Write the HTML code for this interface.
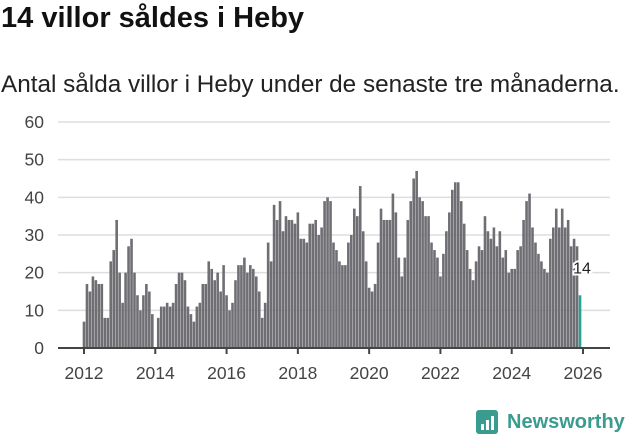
<!DOCTYPE html>
<html><head><meta charset="utf-8">
<style>
body{margin:0;background:#fff;width:631px;height:439px;overflow:hidden;font-family:"Liberation Sans",sans-serif;}
#title{position:absolute;left:1px;top:2px;font-size:29px;font-weight:bold;color:#111;margin:0;white-space:nowrap;}
#sub{position:absolute;left:1px;top:71px;font-size:24.3px;color:#222;white-space:nowrap;}
svg{position:absolute;left:0;top:0;}
</style></head><body>
<h1 id="title">14 villor såldes i Heby</h1>
<div id="sub">Antal sålda villor i Heby under de senaste tre månaderna.</div>
<svg id="chart" width="631" height="439"></svg>
<script>
const startYear = 2012;
const values = [
7,17,15,19,18,17,17,8,8,23,26,34,
20,12,20,27,29,20,14,10,14,17,15,9,
0,8,11,11,12,11,12,17,20,20,18,11,
9,7,11,12,17,17,23,21,18,20,15,22,
14,10,12,18,22,22,24,20,22,21,19,15,
8,12,28,23,38,34,39,31,35,34,34,33,
36,29,29,28,33,33,34,30,32,39,40,39,
28,26,23,22,22,28,30,37,35,43,31,23,
16,15,17,28,37,34,34,34,41,36,24,19,
24,34,39,45,47,40,39,35,35,28,26,24,
19,25,31,36,42,44,44,39,33,26,21,18,
23,27,26,35,31,29,32,27,31,24,26,20,
21,21,26,27,34,39,41,32,28,25,23,21,
20,29,32,37,32,37,32,34,27,29,27,14];
const yTicks = [0,10,20,30,40,50,60];
const xTicks = [2012,2014,2016,2018,2020,2022,2024,2026];
const NS="http://www.w3.org/2000/svg";
const svg=document.getElementById('chart');
const y0=348, yTop=122, yMax=60;
const x0=84, x1=583;
const yS=v=>y0-(v/yMax)*(y0-yTop);
const xS=m=>x0+(m/(12*14))*(x1-x0);
function mk(t,a){const e=document.createElementNS(NS,t);for(const k in a)e.setAttribute(k,a[k]);svg.appendChild(e);return e;}
yTicks.forEach(t=>{
  if(t>0){const g=mk('line',{x1:58,x2:610,y1:yS(t),y2:yS(t),stroke:'#dedede','stroke-width':1.5});
  
  }
  const l=mk('text',{x:44,y:yS(t)+6,'text-anchor':'end','font-size':17.5,fill:'#444','font-family':'Liberation Sans, sans-serif'});
  l.textContent=t;
  
  
});
values.forEach((v,i)=>{
  const last=i===values.length-1;
  const r=mk('rect',{x:xS(i)-1.3,y:yS(v),width:2.6,height:y0-yS(v),fill:last?'#2aa198':'#6f6e73'});
  
  
});
const ax=mk('line',{x1:58,x2:610,y1:y0,y2:y0,stroke:'#444','stroke-width':2});


xTicks.forEach(yr=>{
  const x=xS((yr-startYear)*12);
  const tk=mk('line',{x1:x,x2:x,y1:y0,y2:y0+6,stroke:'#444','stroke-width':2});
  
  
  const l=mk('text',{x:x,y:379,'text-anchor':'middle','font-size':17.5,fill:'#444','font-family':'Liberation Sans, sans-serif'});
  l.textContent=yr;
  
  
});
const li=values.length-1;
const lab=mk('text',{x:xS(li)+2,y:yS(values[li])-22,'text-anchor':'middle','font-size':16,fill:'#222',stroke:'#fff','stroke-width':4,'paint-order':'stroke','font-family':'Liberation Sans, sans-serif'});
lab.textContent=values[li];


const lg=mk('g',{});


const ic=document.createElementNS(NS,'rect');
ic.setAttribute('x',476);ic.setAttribute('y',410);ic.setAttribute('width',22);ic.setAttribute('height',24);ic.setAttribute('rx',3);ic.setAttribute('fill','#3a9c8f');
lg.appendChild(ic);
[[481,424,3,6],[486,420,3,10],[491,416,3,14]].forEach(b=>{const r=document.createElementNS(NS,'rect');r.setAttribute('x',b[0]);r.setAttribute('y',b[1]);r.setAttribute('width',b[2]);r.setAttribute('height',b[3]);r.setAttribute('fill','#fff');lg.appendChild(r);});
const lt=document.createElementNS(NS,'text');
lt.setAttribute('x',507);lt.setAttribute('y',428);lt.setAttribute('font-size',20);lt.setAttribute('font-weight','bold');lt.setAttribute('fill','#3a9c8f');lt.setAttribute('font-family','Liberation Sans, sans-serif');
lt.textContent='Newsworthy';
lg.appendChild(lt);
</script>
</body></html>
